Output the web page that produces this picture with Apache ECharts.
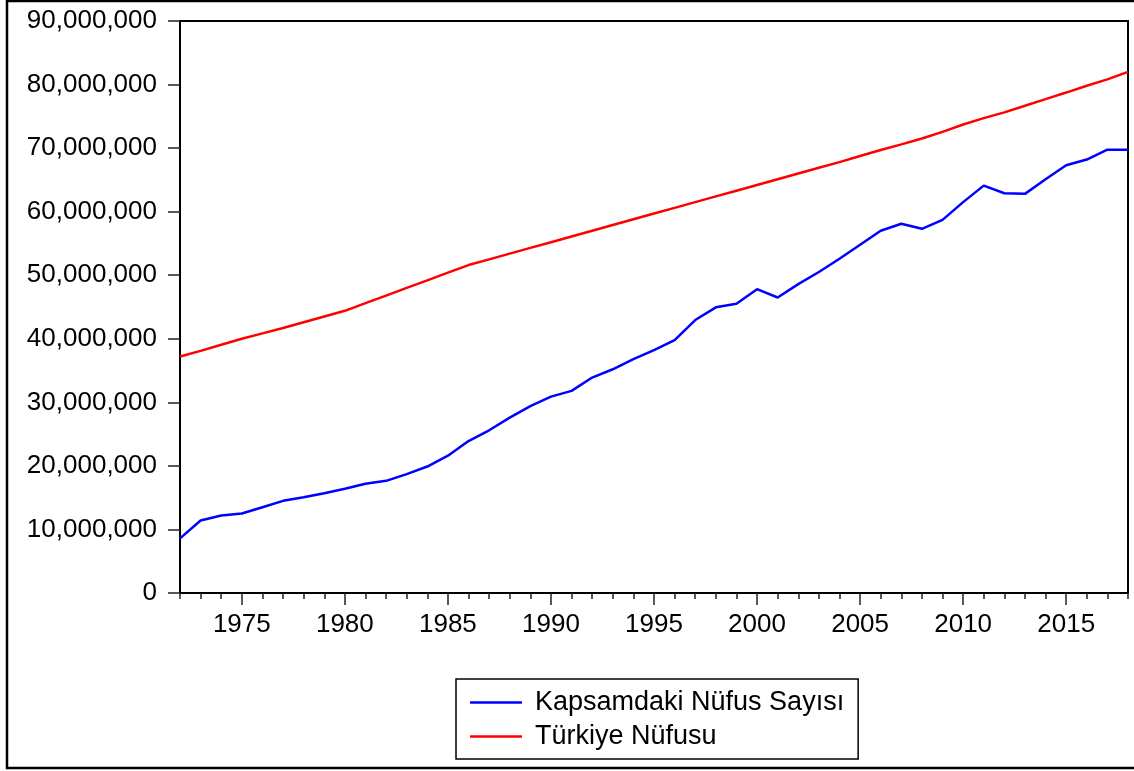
<!DOCTYPE html>
<html>
<head>
<meta charset="utf-8">
<script src="https://cdn.jsdelivr.net/npm/echarts@6/dist/echarts.min.js"></script>
<style>
  html, body { margin: 0; padding: 0; background: #fff; }
  #chart { width: 1134px; height: 771px; }
</style>
</head>
<body>
<div id="chart"></div>
<script>
// years on the x axis
var years = [];
for (var y = 1972; y <= 2018; y++) years.push(String(y));

// Kapsamdaki Nüfus Sayısı (covered population)
var kapsamdaki = [
  8600000, 11400000, 12200000, 12500000, 13500000, 14500000, 15050000, 15700000, 16400000, 17200000,
  17650000, 18700000, 19900000, 21600000, 23900000, 25600000, 27600000, 29400000, 30900000, 31800000,
  33900000, 35200000, 36800000, 38200000, 39800000, 42950000, 44950000, 45500000, 47800000, 46500000,
  48600000, 50500000, 52600000, 54800000, 57000000, 58100000, 57300000, 58700000, 61500000, 64100000,
  62900000, 62800000, 65100000, 67300000, 68200000, 69750000, 69750000
];

// Türkiye Nüfusu
var turkiye = [
  37200000, 38100000, 39050000, 40000000, 40850000, 41700000, 42600000, 43500000, 44400000, 45600000,
  46800000, 48000000, 49200000, 50400000, 51600000, 52500000, 53400000, 54300000, 55200000, 56100000,
  57000000, 57900000, 58800000, 59700000, 60600000, 61500000, 62400000, 63300000, 64200000, 65100000,
  66000000, 66900000, 67800000, 68750000, 69700000, 70590000, 71520000, 72560000, 73720000, 74720000,
  75630000, 76670000, 77700000, 78740000, 79810000, 80810000, 82000000
];

var seriesNames = ['Kapsamdaki Nüfus Sayısı', 'Türkiye Nüfusu'];

var font = '"Liberation Sans", Arial, sans-serif';
var chart = echarts.init(document.getElementById('chart'));

function isMajor(v) { return Number(v) % 5 === 0; }

var option = {
  animation: false,
  backgroundColor: '#fff',
  color: ['#0000ff', '#ff0000'],
  graphic: [{
    type: 'rect',
    z: -10,
    shape: { x: 7, y: 1, width: 1140, height: 767 },
    style: { fill: 'none', stroke: '#000', lineWidth: 2.5 }
  }],
  grid: {
    left: 180, right: 6, top: 21, bottom: 178,
    show: true, borderColor: '#000', borderWidth: 2
  },
  legend: {
    orient: 'vertical',
    left: 456, top: 679,
    padding: [10, 14, 9, 14],
    itemGap: 7,
    itemWidth: 52, itemHeight: 2.5,
    icon: 'rect',
    borderColor: '#000', borderWidth: 1.5,
    textStyle: { fontFamily: font, fontSize: 27, lineHeight: 26, color: '#000', padding: [0, 0, 0, 8] },
    data: seriesNames
  },
  xAxis: [{
    type: 'category',
    data: years,
    boundaryGap: false,
    axisLine: { lineStyle: { color: '#000', width: 2 } },
    axisTick: { interval: function (i, v) { return isMajor(v); }, length: 12, lineStyle: { color: '#222', width: 1.5 } },
    axisLabel: { interval: function (i, v) { return isMajor(v); }, margin: 19, fontFamily: font, fontSize: 26, color: '#000' },
    splitLine: { show: false }
  }, {
    type: 'category',
    data: years,
    boundaryGap: false,
    position: 'bottom',
    axisLine: { show: false },
    axisTick: { interval: 0, length: 6, lineStyle: { color: '#222', width: 1.5 } },
    axisLabel: { show: false },
    splitLine: { show: false }
  }],
  yAxis: {
    type: 'value',
    min: 0, max: 90000000, interval: 10000000,
    axisLine: { show: true, lineStyle: { color: '#000', width: 2 } },
    axisTick: { show: true, length: 12, lineStyle: { color: '#222', width: 1.5 } },
    axisLabel: {
      margin: 23, fontFamily: font, fontSize: 26, color: '#000',
      padding: [0, 0, 14, 0],
      formatter: function (v) { return v.toLocaleString('en-US'); }
    },
    splitLine: { show: false }
  },
  series: [{
    name: seriesNames[0], type: 'line', data: kapsamdaki,
    showSymbol: false, lineStyle: { width: 2.5, color: '#0000ff' }
  }, {
    name: seriesNames[1], type: 'line', data: turkiye,
    showSymbol: false, lineStyle: { width: 2.5, color: '#ff0000' }
  }]
};

chart.setOption(option);
window.addEventListener('resize', function () { chart.resize(); });
</script>
</body>
</html>
